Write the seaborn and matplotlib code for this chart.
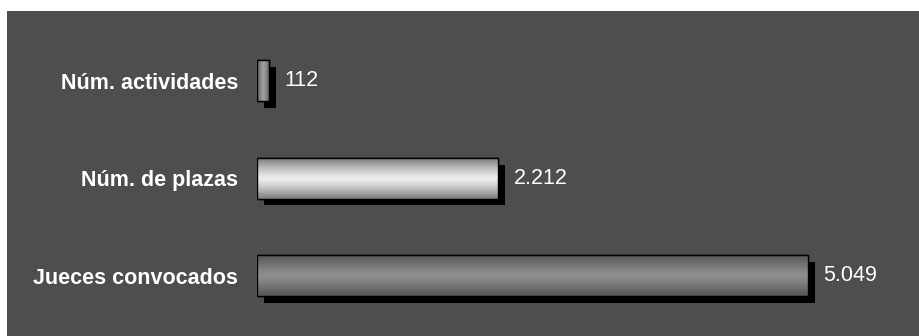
import numpy as np
import pandas as pd
import seaborn as sns
import matplotlib.pyplot as plt
from matplotlib.patches import Rectangle
from matplotlib import patheffects

# data
categories = ['Núm. actividades', 'Núm. de plazas', 'Jueces convocados']
values = [112, 2212, 5049]

# gradient colours per bar (edge, centre)
bar_shades = [('#5a5a5a', '#a0a0a0'), ('#7c7c7c', '#ececec'), ('#555555', '#8e8e8e')]

df = pd.DataFrame({'categoria': categories, 'valor': values})

sns.set_style('white')
plt.rcParams['font.family'] = ['Liberation Sans', 'DejaVu Sans']

fig = plt.figure(figsize=(9.2, 3.36), dpi=100)
fig.patch.set_facecolor('white')

# dark marble background (solid approximation)
fig.add_artist(Rectangle((7 / 920, 0), 1, 325 / 336, transform=fig.transFigure,
                         facecolor='#4e4e4e', edgecolor='none', zorder=0))

ax = fig.add_axes([257 / 920, 0, 1 - 257 / 920, 325 / 336])
ax.patch.set_alpha(0)

sns.barplot(data=df, x='valor', y='categoria', orient='h', width=0.42,
            color='#888888', edgecolor='black', linewidth=1, ax=ax)

ax.set_xlim(0, 6075)
ax.set_ylim(2.62, -0.713)

shadow = [patheffects.SimplePatchShadow(offset=(5, -5), shadow_rgbFace='black', alpha=1.0),
          patheffects.Normal()]

fig.canvas.draw()
for bar, (edge, centre) in zip(ax.patches, bar_shades):
    bar.set_path_effects(shadow)
    x0, y0, w, h = bar.get_x(), bar.get_y(), bar.get_width(), bar.get_height()
    e = np.array(plt.matplotlib.colors.to_rgb(edge))
    c = np.array(plt.matplotlib.colors.to_rgb(centre))
    t = np.abs(np.linspace(-1, 1, 48)) ** 1.3
    grad = c[None, :] + (e - c)[None, :] * t[:, None]
    (px0, py0), (px1, py1) = ax.transData.transform([(x0, y0), (x0 + w, y0 + h)])
    if abs(px1 - px0) < abs(py1 - py0):
        img = grad[None, :, :]
    else:
        img = grad[:, None, :]
    im = ax.imshow(img, extent=(x0, x0 + w, y0 + h, y0), aspect='auto',
                   interpolation='bilinear', zorder=bar.get_zorder() + 0.1)
    im.set_clip_path(bar)
    ax.add_patch(Rectangle((x0, y0), w, h, fill=False, edgecolor='black',
                           linewidth=1, zorder=bar.get_zorder() + 0.2))

ax.set_xlim(0, 6075)
ax.set_ylim(2.62, -0.713)

ax.bar_label(ax.containers[0], labels=[f'{v:,}'.replace(',', '.') for v in values],
             padding=11, color='white', fontsize=15.5)

ax.set_xlabel('')
ax.set_ylabel('')
ax.set_xticks([])
ax.tick_params(axis='y', length=0, pad=13.5, labelcolor='white', labelsize=15.5)
for lab in ax.get_yticklabels():
    lab.set_fontweight('bold')
sns.despine(ax=ax, left=True, bottom=True)

fig.savefig('out.png', dpi=100, facecolor='white')
